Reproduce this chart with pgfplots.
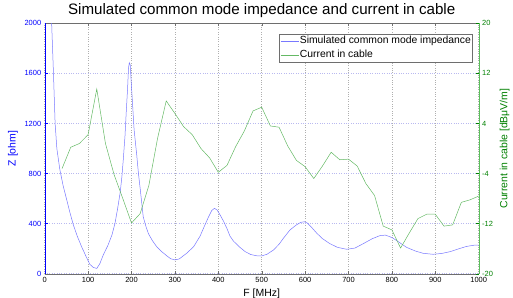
\documentclass[border=0pt]{standalone}
\usepackage{pgfplots}
\pgfplotsset{compat=1.18}
\usepackage{fontspec}
\setmainfont{Liberation Sans}
\usetikzlibrary{calc}
\definecolor{zblue}{RGB}{0,0,255}
\definecolor{curveblue}{RGB}{120,120,255}
\definecolor{cgreen}{RGB}{0,128,0}
\definecolor{curvegreen}{RGB}{100,185,100}
\definecolor{axgreen}{RGB}{90,190,90}
\definecolor{gridgray}{RGB}{175,175,175}
\definecolor{gridblue}{RGB}{185,185,240}
\definecolor{boxgray}{RGB}{110,110,110}
\tikzset{bluecurve/.style={draw=curveblue, color=curveblue, line width=0.5bp},
         greencurve/.style={draw=curvegreen, color=curvegreen, line width=0.5bp}}
\begin{document}
\begin{tikzpicture}
\begin{axis}[
  name=main,
  scale only axis, width=434bp, height=250.4bp,
  xmin=0, xmax=1000, ymin=0, ymax=2000,
  axis x line=box, axis y line=left,
  x axis line style={draw=boxgray,-},
  y axis line style={draw=zblue,-},
  xtick={0,100,...,1000}, ytick={0,400,...,2000},
  tick align=inside, major tick length=3bp,
  x tick style={boxgray, line width=0.4bp},
  y tick style={zblue, line width=0.4bp},
  /pgf/number format/assume math mode=true,
  /pgf/number format/1000 sep={},
  tick label style={font=\fontsize{7.5}{8}\selectfont},
  xticklabel style={black},
  yticklabel style={zblue},
  grid=major,
  x grid style={gridgray, dotted, line width=0.5bp},
  y grid style={gridblue, dotted, line width=0.5bp},
  xlabel={F [MHz]}, ylabel={Z [ohm]},
  xlabel style={font=\fontsize{10.5}{12}\selectfont, black},
  ylabel style={font=\fontsize{10.5}{12}\selectfont, zblue},
  title={Simulated common mode impedance and current in cable},
  every axis title/.style={at={(0.5,1)}, anchor=base, yshift=8.5bp, font=\fontsize{15.2}{17}\selectfont},
]
\addplot[bluecurve] coordinates {
(12,2450) (16,2000) (20,1620) (24,1200) (28,1000) (35,830) (42,710) (50,600)
(58,490) (66,390) (75,300) (85,216) (95,140) (104,75) (112,50) (120,42)
(127,80) (135,150) (146,229) (155,310) (162,403) (168,520) (174,650) (178,780)
(181,908) (185,1100) (188,1300) (191,1480) (193,1640) (195,1685) (197,1670)
(199,1550) (202,1380) (206,1150) (212,950) (216,800) (220,680) (227,455)
(233,380) (239,320) (248,265) (258,216) (270,175) (281,144) (290,120) (300,110)
(310,118) (327,163) (343,215) (358,300) (368,380) (377,450) (385,505) (391,522)
(397,510) (404,470) (412,420) (420,360) (427,300) (435,260) (450,210) (462,176)
(475,153) (490,142) (500,142) (512,155) (527,189) (540,235) (550,283) (565,349)
(580,390) (590,410) (598,415) (605,405) (615,370) (627,323) (640,280) (657,240)
(675,210) (696,195) (715,205) (734,240) (755,280) (773,305) (785,308) (795,296)
(803,283) (815,255) (834,210) (855,180) (872,163) (895,155) (915,162) (934,176)
(955,200) (972,218) (990,228) (1000,229)
};
\end{axis}
\begin{axis}[
  scale only axis, width=434bp, height=250.4bp,
  xmin=0, xmax=1000, ymin=-20, ymax=20,
  axis x line=none, axis y line=right,
  y axis line style={draw=axgreen,-},
  ytick={-20,-12,-4,4,12,20},
  tick align=inside, major tick length=3bp,
  y tick style={cgreen, line width=0.4bp},
  /pgf/number format/assume math mode=true,
  tick label style={font=\fontsize{7.5}{8}\selectfont},
  yticklabel style={cgreen},
  ylabel={Current in cable [dBμV/m]},
  ylabel style={font=\fontsize{10.5}{12}\selectfont, cgreen},
  legend cell align=left,
  legend style={at={(0.986,0.957)}, anchor=north east, draw=boxgray, fill=white,
    font=\fontsize{10.4}{11}\selectfont, inner xsep=1bp, inner ysep=1bp,
    row sep=2bp,
    nodes={inner sep=0.5bp, text height=8bp, text depth=3bp}},
]
\addlegendimage{legend image code/.code={\draw[curveblue, line width=0.8bp] (0bp,0bp) -- (18bp,0bp);}}
\addlegendentry{Simulated common mode impedance}
\addplot[greencurve, legend image code/.code={\draw[curvegreen, line width=0.8bp] (0bp,0bp) -- (18bp,0bp);}] coordinates {
(40,-3.2) (60,0.2) (80,0.8) (100,2.2) (120,9.5) (140,0.8) (160,-4.2) (180,-8.0)
(200,-11.9) (220,-10.4) (240,-5.9) (260,1.6) (280,7.6) (300,5.6) (320,3.5)
(340,2.2) (360,0.0) (380,-1.5) (400,-3.8) (420,-2.7) (440,0.3) (460,2.8)
(480,6.0) (500,6.6) (520,3.6) (540,3.4) (560,0.4) (580,-1.9) (600,-2.9)
(620,-4.8) (640,-2.8) (660,-0.6) (680,-1.8) (700,-1.7) (720,-2.8) (740,-5.6)
(760,-7.5) (780,-12.4) (800,-13.0) (820,-15.9) (840,-13.5) (860,-11.2)
(880,-10.5) (900,-10.5) (920,-12.4) (940,-12.2) (960,-8.6) (980,-8.2) (1000,-7.6)
};
\addlegendentry{Current in cable}
\end{axis}
\pgfresetboundingbox
\path[use as bounding box] ($(main.south west)+(-44.7bp,-24.3bp)$) rectangle ($(main.north east)+(34.3bp,23.3bp)$);
\end{tikzpicture}
\end{document}
